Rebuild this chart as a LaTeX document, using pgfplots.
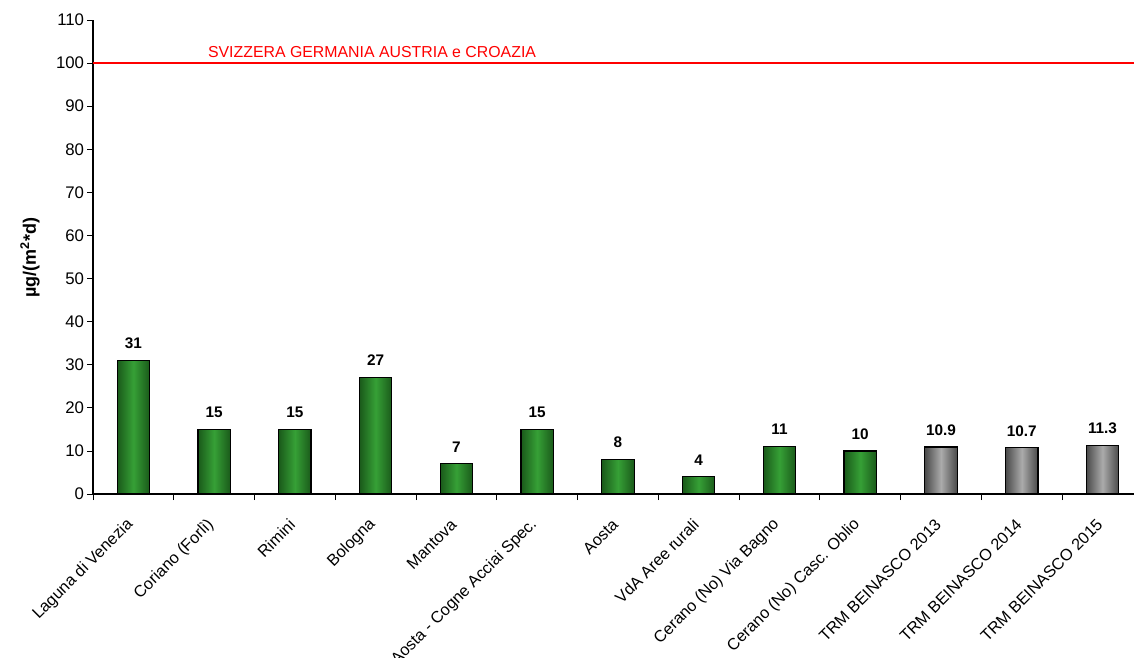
\documentclass[border=0pt]{standalone}
\usepackage{fontspec}
\setmainfont{Liberation Sans}
\usepackage{pgfplots}
\pgfplotsset{compat=1.18}
\usetikzlibrary{calc}
\definecolor{gdark}{HTML}{1A5A1A}
\definecolor{gmid}{HTML}{36A036}
\definecolor{kdark}{HTML}{4A4A4A}
\definecolor{kmid}{HTML}{ABABAB}
\begin{document}
\begin{tikzpicture}
\begin{axis}[
  name=ax,
  scale only axis,
  width=780.75pt, height=355.5pt,
  xmin=-0.5, xmax=12.39,
  ymin=0, ymax=110,
  ytick={0,10,...,110},
  axis lines*=left,
  axis line style={line width=0.8pt},
  xtick={0,...,12},
  xticklabels={Laguna di Venezia,Coriano (Forlì),Rimini,Bologna,Mantova,Aosta - Cogne Acciai Spec.,Aosta,VdA Aree rurali,Cerano (No) Via Bagno,Cerano (No) Casc. Oblio,TRM BEINASCO 2013,TRM BEINASCO 2014,TRM BEINASCO 2015},
  major x tick style={draw=none},
  minor xtick={-0.5,0.5,...,11.5},
  tick align=outside,
  major tick length=4.5pt,
  minor tick length=4.5pt,
  tick style={black, line width=0.6pt},
  xticklabel style={font=\fontsize{12.2}{14}\selectfont, xshift=-2pt, yshift=-16.5pt, rotate=45, anchor=east, inner sep=0pt},
  yticklabel style={font=\fontsize{12.6}{14}\selectfont, inner sep=2pt},
  /pgf/number format/assume math mode=true,
  ylabel={\textbf{µg/(m\textsuperscript{2}*d)}},
  ylabel style={font=\fontsize{13.5}{15}\selectfont, at={(axis description cs:-0.0605,0.498)}, anchor=center, rotate=0},
  bar width=0.4,
  clip=false,
  nodes near coords,
  point meta=explicit symbolic,
  every node near coord/.append style={font=\bfseries\fontsize{11.5}{13}\selectfont, black, yshift=5pt},
  gbar/.style={ybar, bar shift=0pt, draw=black, line width=0.9pt, left color=gdark, right color=gdark, middle color=gmid},
  kbar/.style={ybar, bar shift=0pt, draw=black, line width=0.9pt, left color=kdark, right color=kdark, middle color=kmid},
]
\addplot[gbar] coordinates {(0,31) [31]};
\addplot[gbar] coordinates {(1,15) [15]};
\addplot[gbar] coordinates {(2,15) [15]};
\addplot[gbar] coordinates {(3,27) [27]};
\addplot[gbar] coordinates {(4,7) [7]};
\addplot[gbar] coordinates {(5,15) [15]};
\addplot[gbar] coordinates {(6,8) [8]};
\addplot[gbar] coordinates {(7,4) [4]};
\addplot[gbar] coordinates {(8,11) [11]};
\addplot[gbar] coordinates {(9,10) [10]};
\addplot[kbar] coordinates {(10,10.9) [10.9]};
\addplot[kbar] coordinates {(11,10.7) [10.7]};
\addplot[kbar] coordinates {(12,11.3) [11.3]};
\draw[red, line width=1.8pt] (axis cs:-0.5,100) -- (axis cs:12.39,100);
\node[red, anchor=south, font=\fontsize{11.9}{13}\selectfont, inner sep=0pt] at (axis cs:2.955,101.2) {SVIZZERA GERMANIA AUSTRIA e CROAZIA};
\end{axis}
\pgfresetboundingbox
\useasboundingbox ($(ax.south west)+(-69.75pt,-122.25pt)$) rectangle ($(ax.north east)+(0,15pt)$);
\end{tikzpicture}
\end{document}
